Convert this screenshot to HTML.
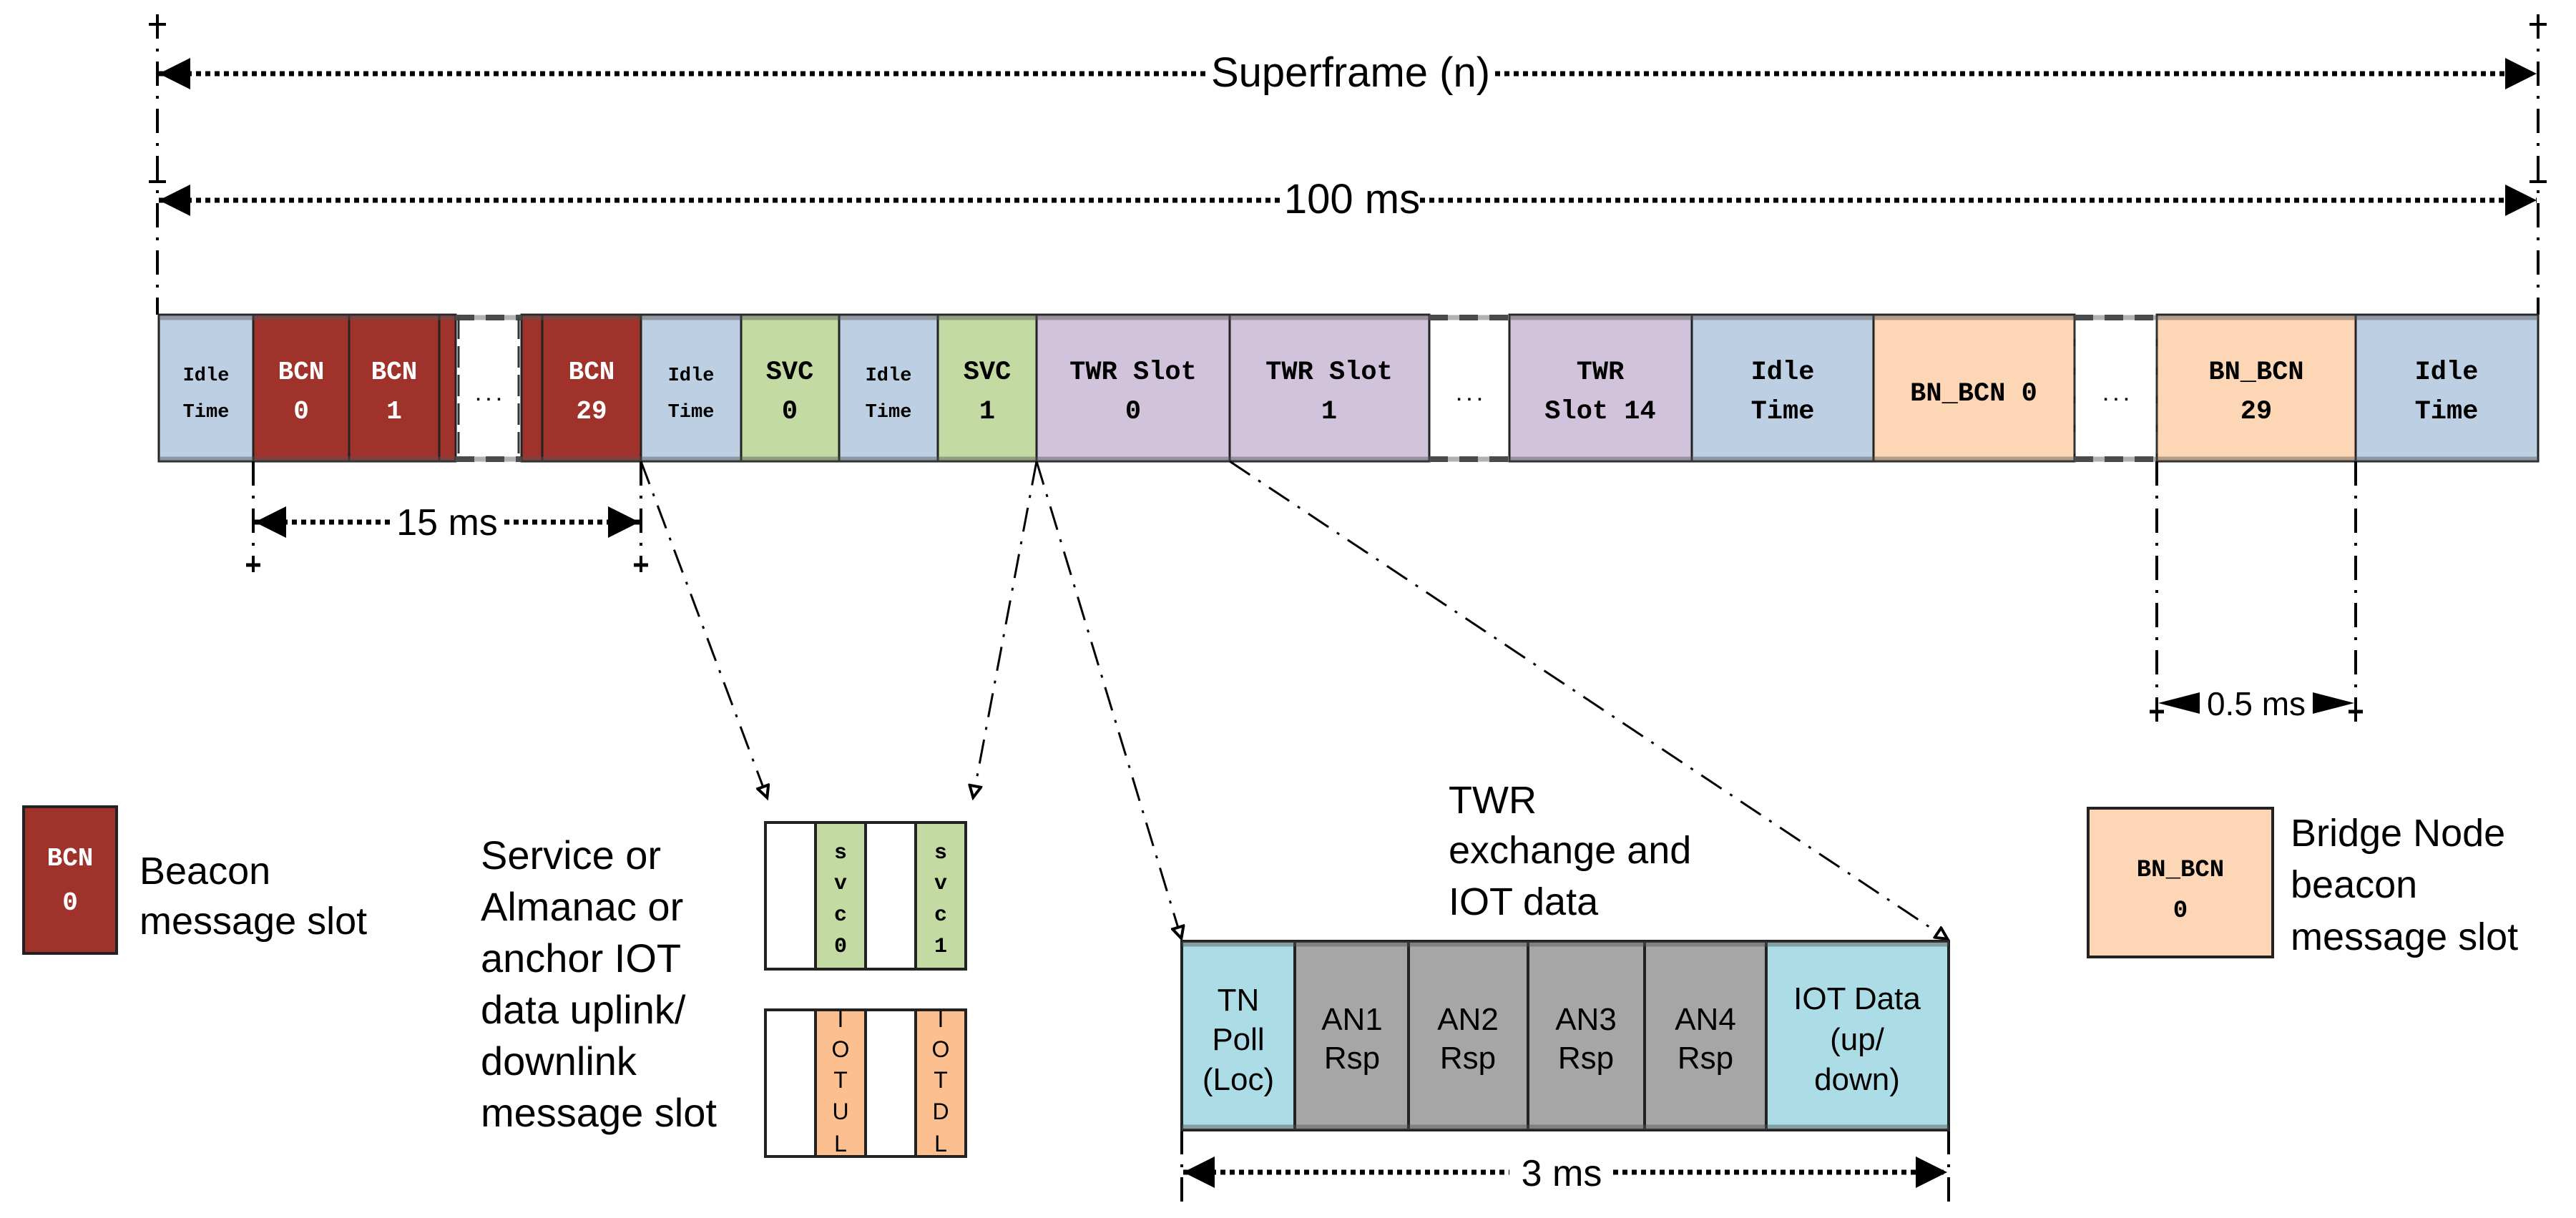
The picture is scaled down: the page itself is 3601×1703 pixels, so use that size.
<!DOCTYPE html>
<html><head><meta charset="utf-8"><style>
html,body{margin:0;padding:0;background:#fff}
svg{display:block}
.m{font-family:"Liberation Mono",monospace;font-weight:bold}
.s{font-family:"Liberation Sans",sans-serif}
</style></head><body>
<svg width="3601" height="1703" viewBox="0 0 3601 1703" xmlns="http://www.w3.org/2000/svg">
<defs>
<marker id="af" viewBox="0 0 10 10" refX="10" refY="5" markerWidth="64" markerHeight="44" markerUnits="userSpaceOnUse" orient="auto"><path d="M0,0 L10,5 L0,10 z" fill="#000"/></marker>
<marker id="ab" viewBox="0 0 10 10" refX="0" refY="5" markerWidth="64" markerHeight="44" markerUnits="userSpaceOnUse" orient="auto"><path d="M10,0 L0,5 L10,10 z" fill="#000"/></marker>
<marker id="ho" viewBox="0 0 10 10" refX="10" refY="5" markerWidth="24" markerHeight="20" markerUnits="userSpaceOnUse" orient="auto"><path d="M1,1 L9,5 L1,9 z" fill="#fff" stroke="#000" stroke-width="2"/></marker>
</defs>
<g stroke="#000" stroke-width="4" fill="none" stroke-dasharray="34 14 4 14">
<line x1="220" y1="20" x2="220" y2="440"/>
<line x1="3548" y1="20" x2="3548" y2="440"/>
</g>
<g stroke="#000" stroke-width="4">
<line x1="208" y1="34" x2="232" y2="34"/><line x1="3536" y1="34" x2="3560" y2="34"/>
<line x1="208" y1="254" x2="232" y2="254"/><line x1="3536" y1="254" x2="3560" y2="254"/>
</g>
<g stroke="#000" stroke-width="7" stroke-dasharray="7 6">
<line x1="222" y1="103" x2="1690" y2="103" marker-start="url(#ab)"/>
<line x1="2090" y1="103" x2="3546" y2="103" marker-end="url(#af)"/>
<line x1="222" y1="280" x2="1795" y2="280" marker-start="url(#ab)"/>
<line x1="1985" y1="280" x2="3546" y2="280" marker-end="url(#af)"/>
</g>
<text class="s" x="1888" y="121" font-size="58" text-anchor="middle">Superframe (n)</text>
<text class="s" x="1890" y="298" font-size="58" text-anchor="middle">100 ms</text>

<!-- main bar -->
<g stroke="#222" stroke-width="3">
<rect x="222" y="440" width="132" height="205" fill="#bccfe3"/>
<rect x="354" y="440" width="134" height="205" fill="#a0322c"/>
<rect x="488" y="440" width="126" height="205" fill="#a0322c"/>
<rect x="614" y="440" width="23" height="205" fill="#a0322c"/>
<rect x="729" y="440" width="29" height="205" fill="#a0322c"/>
<rect x="758" y="440" width="138" height="205" fill="#a0322c"/>
<rect x="896" y="440" width="140" height="205" fill="#bccfe3"/>
<rect x="1036" y="440" width="137" height="205" fill="#c3dba2"/>
<rect x="1173" y="440" width="138" height="205" fill="#bccfe3"/>
<rect x="1311" y="440" width="138" height="205" fill="#c3dba2"/>
<rect x="1449" y="440" width="270" height="205" fill="#d2c3dc"/>
<rect x="1719" y="440" width="279" height="205" fill="#d2c3dc"/>
<rect x="2110" y="440" width="255" height="205" fill="#d2c3dc"/>
<rect x="2365" y="440" width="254" height="205" fill="#bccfe3"/>
<rect x="2619" y="440" width="281" height="205" fill="#fdd6b5"/>
<rect x="3015" y="440" width="278" height="205" fill="#fdd6b5"/>
<rect x="3293" y="440" width="255" height="205" fill="#bccfe3"/>
</g>
<g stroke="#444" stroke-width="8" stroke-dasharray="26 16">
<line x1="637" y1="444" x2="729" y2="444"/><line x1="637" y1="642" x2="729" y2="642"/>
<line x1="1998" y1="444" x2="2110" y2="444"/><line x1="1998" y1="642" x2="2110" y2="642"/>
<line x1="2900" y1="444" x2="3015" y2="444"/><line x1="2900" y1="642" x2="3015" y2="642"/>
</g>
<g stroke="#333" stroke-width="3" stroke-dasharray="30 10">
<line x1="641" y1="444" x2="641" y2="642"/><line x1="725" y1="444" x2="725" y2="642"/>
<line x1="2900" y1="444" x2="2900" y2="642"/><line x1="3015" y1="444" x2="3015" y2="642"/>
</g>
<g stroke="#555" stroke-width="7"><line x1="222" y1="444" x2="3548" y2="444" stroke-opacity="0.45"/><line x1="222" y1="642" x2="3548" y2="642" stroke-opacity="0.45"/></g>
<g class="m" font-size="27" text-anchor="middle">
<text x="288" y="532">Idle</text><text x="288" y="583">Time</text>
<text x="966" y="532">Idle</text><text x="966" y="583">Time</text>
<text x="1242" y="532">Idle</text><text x="1242" y="583">Time</text>
</g>
<g class="m" font-size="36" text-anchor="middle" fill="#fff">
<text x="421" y="530">BCN</text><text x="421" y="585">0</text>
<text x="551" y="530">BCN</text><text x="551" y="585">1</text>
<text x="827" y="530">BCN</text><text x="827" y="585">29</text>
</g>
<g class="m" font-size="37" text-anchor="middle">
<text x="683" y="560" font-size="24">...</text>
<text x="2054" y="560" font-size="24">...</text>
<text x="2958" y="560" font-size="24">...</text>
<text x="1104" y="530">SVC</text><text x="1104" y="585">0</text>
<text x="1380" y="530">SVC</text><text x="1380" y="585">1</text>
<text x="1584" y="530">TWR Slot</text><text x="1584" y="585">0</text>
<text x="1858" y="530">TWR Slot</text><text x="1858" y="585">1</text>
<text x="2237" y="530">TWR</text><text x="2237" y="585">Slot 14</text>
<text x="2492" y="530">Idle</text><text x="2492" y="585">Time</text>
<text x="2759" y="560">BN_BCN 0</text>
<text x="3154" y="530">BN_BCN</text><text x="3154" y="585">29</text>
<text x="3420" y="530">Idle</text><text x="3420" y="585">Time</text>
</g>

<!-- 15 ms -->
<g stroke="#000" stroke-width="4" stroke-dasharray="34 14 4 14">
<line x1="354" y1="645" x2="354" y2="800"/><line x1="896" y1="645" x2="896" y2="800"/>
<line x1="3015" y1="645" x2="3015" y2="1010"/><line x1="3293" y1="645" x2="3293" y2="1010"/>
<line x1="1652" y1="1580" x2="1652" y2="1690"/><line x1="2724" y1="1580" x2="2724" y2="1690"/>
</g>
<g stroke="#000" stroke-width="5"><line x1="344" y1="790" x2="364" y2="790"/><line x1="886" y1="790" x2="906" y2="790"/>
<line x1="3005" y1="995" x2="3025" y2="995"/><line x1="3283" y1="995" x2="3303" y2="995"/></g>
<g stroke="#000" stroke-width="7" stroke-dasharray="7 6">
<line x1="356" y1="730" x2="545" y2="730" marker-start="url(#ab)"/>
<line x1="705" y1="730" x2="894" y2="730" marker-end="url(#af)"/>
<line x1="1654" y1="1639" x2="2110" y2="1639" marker-start="url(#ab)"/>
<line x1="2255" y1="1639" x2="2722" y2="1639" marker-end="url(#af)"/>
</g>
<text class="s" x="625" y="748" font-size="52" text-anchor="middle">15 ms</text>
<text class="s" x="2183" y="1658" font-size="52" text-anchor="middle">3 ms</text>
<path d="M3017,983 L3075,968 L3075,998 z M3291,983 L3233,968 L3233,998 z" fill="#000"/>
<text class="s" x="3154" y="1000" font-size="46" text-anchor="middle">0.5 ms</text>

<!-- connectors -->
<g stroke="#000" stroke-width="3" fill="none" stroke-dasharray="34 14 4 14">
<line x1="896" y1="645" x2="1073" y2="1117" marker-end="url(#ho)"/>
<line x1="1449" y1="645" x2="1360" y2="1117" marker-end="url(#ho)"/>
<line x1="1449" y1="645" x2="1652" y2="1314" marker-end="url(#ho)"/>
<line x1="1719" y1="645" x2="2724" y2="1314" marker-end="url(#ho)"/>
</g>

<!-- legend BCN -->
<rect x="33" y="1128" width="130" height="205" fill="#a0322c" stroke="#222" stroke-width="4"/>
<text class="m" x="98" y="1210" font-size="36" fill="#fff" text-anchor="middle">BCN</text>
<text class="m" x="98" y="1272" font-size="36" fill="#fff" text-anchor="middle">0</text>
<text class="s" x="195" y="1236" font-size="54">Beacon</text>
<text class="s" x="195" y="1306" font-size="54">message slot</text>

<g class="s" font-size="56">
<text x="672" y="1215">Service or</text>
<text x="672" y="1287">Almanac or</text>
<text x="672" y="1359">anchor IOT</text>
<text x="672" y="1431">data uplink/</text>
<text x="672" y="1503">downlink</text>
<text x="672" y="1575">message slot</text>
</g>

<!-- svc table -->
<g stroke="#222" stroke-width="4">
<rect x="1070" y="1150" width="70" height="205" fill="#fff"/>
<rect x="1140" y="1150" width="70" height="205" fill="#c3dba2"/>
<rect x="1210" y="1150" width="70" height="205" fill="#fff"/>
<rect x="1280" y="1150" width="70" height="205" fill="#c3dba2"/>
<rect x="1070" y="1412" width="70" height="205" fill="#fff"/>
<rect x="1140" y="1412" width="70" height="205" fill="#fbbf90"/>
<rect x="1210" y="1412" width="70" height="205" fill="#fff"/>
<rect x="1280" y="1412" width="70" height="205" fill="#fbbf90"/>
</g>
<g class="m" font-size="30" text-anchor="middle">
<text x="1175" y="1200">s</text><text x="1175" y="1243">v</text><text x="1175" y="1287">c</text><text x="1175" y="1331">0</text>
<text x="1315" y="1200">s</text><text x="1315" y="1243">v</text><text x="1315" y="1287">c</text><text x="1315" y="1331">1</text>
</g>
<g class="s" font-size="32" text-anchor="middle">
<text x="1175" y="1436">I</text><text x="1175" y="1478">O</text><text x="1175" y="1521">T</text><text x="1175" y="1565">U</text><text x="1175" y="1610">L</text>
<text x="1315" y="1436">I</text><text x="1315" y="1478">O</text><text x="1315" y="1521">T</text><text x="1315" y="1565">D</text><text x="1315" y="1610">L</text>
</g>

<!-- TWR detail -->
<g class="s" font-size="54">
<text x="2025" y="1137">TWR</text>
<text x="2025" y="1207">exchange and</text>
<text x="2025" y="1279">IOT data</text>
</g>
<g stroke="#222" stroke-width="4">
<rect x="1652" y="1316" width="158" height="264" fill="#acdde6"/>
<rect x="1810" y="1316" width="159" height="264" fill="#a6a6a6"/>
<rect x="1969" y="1316" width="167" height="264" fill="#a6a6a6"/>
<rect x="2136" y="1316" width="163" height="264" fill="#a6a6a6"/>
<rect x="2299" y="1316" width="170" height="264" fill="#a6a6a6"/>
<rect x="2469" y="1316" width="255" height="264" fill="#acdde6"/>
</g>
<g stroke="#555" stroke-width="7" stroke-opacity="0.45"><line x1="1652" y1="1320" x2="2724" y2="1320"/><line x1="1652" y1="1576" x2="2724" y2="1576"/></g>
<g class="s" font-size="44" text-anchor="middle">
<text x="1731" y="1413">TN</text><text x="1731" y="1468">Poll</text><text x="1731" y="1524">(Loc)</text>
<text x="1890" y="1440">AN1</text><text x="1890" y="1494">Rsp</text>
<text x="2052" y="1440">AN2</text><text x="2052" y="1494">Rsp</text>
<text x="2217" y="1440">AN3</text><text x="2217" y="1494">Rsp</text>
<text x="2384" y="1440">AN4</text><text x="2384" y="1494">Rsp</text>
<text x="2596" y="1411">IOT Data</text><text x="2596" y="1468">(up/</text><text x="2596" y="1524">down)</text>
</g>

<!-- BN legend -->
<rect x="2919" y="1130" width="258" height="208" fill="#fdd6b5" stroke="#222" stroke-width="4"/>
<text class="m" x="3048" y="1225" font-size="34" text-anchor="middle">BN_BCN</text>
<text class="m" x="3048" y="1282" font-size="34" text-anchor="middle">0</text>
<g class="s" font-size="54">
<text x="3202" y="1183">Bridge Node</text>
<text x="3202" y="1255">beacon</text>
<text x="3202" y="1328">message slot</text>
</g>
</svg>
</body></html>
